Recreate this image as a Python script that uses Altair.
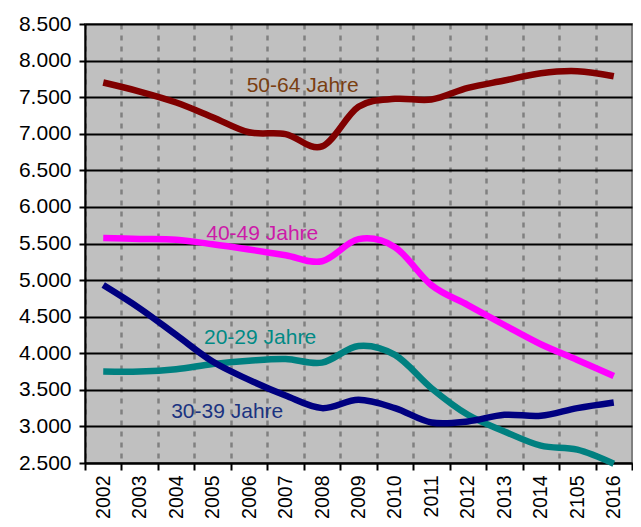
import altair as alt
import pandas as pd

years = ["2002", "2003", "2004", "2005", "2006", "2007", "2008", "2009",
         "2010", "2011", "2012", "2013", "2014", "2105", "2016"]

v_50_64 = [7700, 7577, 7427, 7227, 7020, 6995, 6827, 7368, 7477, 7468, 7627, 7727, 7827, 7855, 7786]
v_40_49 = [5576, 5563, 5550, 5490, 5418, 5340, 5258, 5559, 5450, 4931, 4659, 4386, 4123, 3909, 3690]
v_20_29 = [3749, 3749, 3782, 3854, 3899, 3922, 3872, 4100, 3977, 3523, 3159, 2932, 2737, 2682, 2490]
v_30_39 = [4932, 4614, 4250, 3886, 3636, 3422, 3250, 3363, 3250, 3054, 3068, 3159, 3145, 3250, 3327]

series_names = ["50-64 Jahre", "40-49 Jahre", "20-29 Jahre", "30-39 Jahre"]
line_colors = ["#800000", "#FF00FF", "#008080", "#000080"]
text_colors = ["#7A3E10", "#CC1AA8", "#008A85", "#1A3380"]

label_idx = [5.47, 4.36, 4.30, 3.40]
label_val = [7659, 5627, 4209, 3200]

y_ticks = [2500, 3000, 3500, 4000, 4500, 5000, 5500, 6000, 6500, 7000, 7500, 8000, 8500]

rows = []
for name, vals in zip(series_names, [v_50_64, v_40_49, v_20_29, v_30_39]):
    for i, v in enumerate(vals):
        rows.append({"idx": i, "value": v, "series": name})
df = pd.DataFrame(rows)

df_lab = pd.DataFrame({"idx": label_idx, "value": label_val, "series": series_names})

n = len(years)
tick_vals = [i / 2 - 0.5 for i in range(2 * n + 1)]
years_js = "[" + ",".join("'" + y + "'" for y in years) + "]"

x_enc = alt.X(
    "idx:Q",
    scale=alt.Scale(domain=[-0.5, n - 0.5], nice=False, zero=False),
    axis=alt.Axis(
        title=None,
        values=tick_vals,
        tickCount=200,
        labelExpr=f"datum.value % 1 === 0 ? {years_js}[datum.value] : ''",
        labelAngle=-90,
        labelFontSize=19.5,
        labelColor="#000000",
        labelPadding=5,
        labelOverlap=False,
        labelFlush=False,
        tickSize=7,
        tickWidth=2,
        tickColor="#000000",
        tickOpacity={"condition": {"test": "datum.value % 1 !== 0", "value": 1}, "value": 0},
        domainColor="#000000",
        domainWidth=2,
        grid=True,
        gridColor="#808080",
        gridWidth=2.5,
        gridDash=[5, 6],
        gridOpacity={"condition": {"test": "datum.value % 1 !== 0", "value": 1}, "value": 0},
    ),
)

y_enc = alt.Y(
    "value:Q",
    scale=alt.Scale(domain=[2500, 8500], nice=False, zero=False),
    axis=alt.Axis(
        title=None,
        values=y_ticks,
        tickCount=200,
        labelExpr="replace(format(datum.value, ',.0f'), ',', '.')",
        labelFontSize=21,
        labelColor="#000000",
        labelPadding=8,
        labelOverlap=False,
        tickSize=6,
        tickWidth=2,
        tickColor="#000000",
        domainColor="#000000",
        domainWidth=2,
        grid=True,
        gridColor="#000000",
        gridWidth=2,
    ),
)

lines = alt.Chart(df).mark_line(interpolate="cardinal", strokeWidth=6.5, strokeCap="butt").encode(
    x=x_enc,
    y=y_enc,
    color=alt.Color("series:N", scale=alt.Scale(domain=series_names, range=line_colors), legend=None),
    detail="series:N",
)

labels = alt.Chart(df_lab).mark_text(fontSize=21, font="Liberation Sans", align="center", baseline="middle").encode(
    x=alt.X("idx:Q"),
    y=alt.Y("value:Q"),
    text="series:N",
    color=alt.Color("series:N", scale=alt.Scale(domain=series_names, range=text_colors), legend=None),
)

chart = alt.layer(lines, labels).resolve_scale(color="independent").properties(
    width=547,
    height=439,
    autosize=alt.AutoSizeParams(type="none"),
    padding={"left": 77, "top": 16, "right": 1, "bottom": 56},
    background="#FFFFFF",
).configure(
    font="Liberation Sans",
).configure_view(
    fill="#C0C0C0",
    stroke="#808080",
    strokeWidth=2,
)

chart.save("out.html", embed_options={"renderer": "svg", "actions": False})
